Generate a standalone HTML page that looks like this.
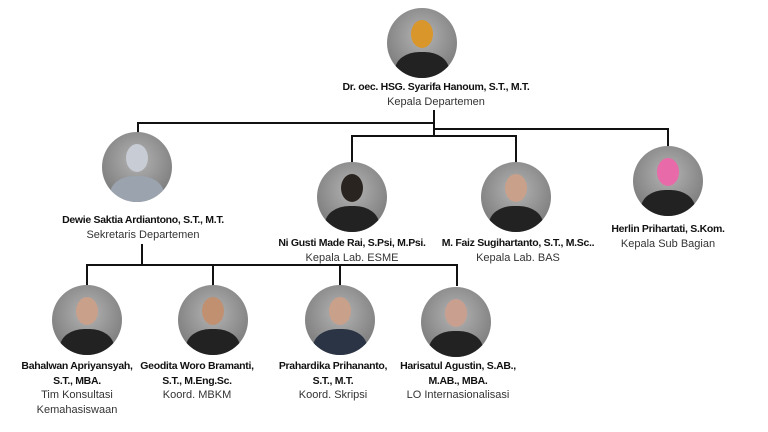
<!DOCTYPE html>
<html><head><meta charset="utf-8"><style>
html,body{margin:0;padding:0;background:#fff}
#c{position:relative;width:768px;height:432px;overflow:hidden;font-family:"Liberation Sans",sans-serif}
.l{position:absolute;background:#111}
.p{position:absolute;width:70px;height:70px;border-radius:50%;overflow:hidden;background:radial-gradient(circle at 50% 40%,#b4b4b4,#7e7e7e 75%,#6a6a6a)}
.p .h{position:absolute;left:24px;top:12px;width:22px;height:28px;border-radius:50%;background:#c9a08a}
.p .b{position:absolute;left:8px;top:44px;width:54px;height:40px;border-radius:45% 45% 0 0;background:#222}
.t{position:absolute;width:240px;text-align:center;font-size:11px;line-height:14.5px;color:#333}
.t b{color:#111;letter-spacing:-0.3px;font-size:10.5px}
</style></head><body><div id="c">
<div class="l" style="left:433px;top:110px;width:2px;height:27px"></div>
<div class="l" style="left:137px;top:122px;width:298px;height:2px"></div>
<div class="l" style="left:137px;top:122px;width:2px;height:12px"></div>
<div class="l" style="left:433px;top:128px;width:236px;height:2px"></div>
<div class="l" style="left:667px;top:128px;width:2px;height:20px"></div>
<div class="l" style="left:351px;top:135px;width:166px;height:2px"></div>
<div class="l" style="left:351px;top:135px;width:2px;height:28px"></div>
<div class="l" style="left:515px;top:135px;width:2px;height:28px"></div>
<div class="l" style="left:141px;top:244px;width:2px;height:22px"></div>
<div class="l" style="left:86px;top:264px;width:372px;height:2px"></div>
<div class="l" style="left:86px;top:264px;width:2px;height:22px"></div>
<div class="l" style="left:212px;top:264px;width:2px;height:22px"></div>
<div class="l" style="left:339px;top:264px;width:2px;height:22px"></div>
<div class="l" style="left:456px;top:264px;width:2px;height:22px"></div>
<div class="p" style="left:387px;top:8px"><div class="h" style="background:#d9962a"></div><div class="b"></div></div>
<div class="p" style="left:102px;top:132px"><div class="h" style="background:#c8ccd4"></div><div class="b" style="background:#9aa3ae"></div></div>
<div class="p" style="left:317px;top:162px"><div class="h" style="background:#2a2420"></div><div class="b"></div></div>
<div class="p" style="left:481px;top:162px"><div class="h"></div><div class="b"></div></div>
<div class="p" style="left:633px;top:146px"><div class="h" style="background:#e86aa8"></div><div class="b"></div></div>
<div class="p" style="left:52px;top:285px"><div class="h"></div><div class="b"></div></div>
<div class="p" style="left:178px;top:285px"><div class="h" style="background:#c09070"></div><div class="b"></div></div>
<div class="p" style="left:305px;top:285px"><div class="h"></div><div class="b" style="background:#2a3444"></div></div>
<div class="p" style="left:421px;top:287px"><div class="h" style="background:#c9a090"></div><div class="b"></div></div>
<div class="t" style="left:316px;top:80px"><b>Dr. oec. HSG. Syarifa Hanoum, S.T., M.T.</b><br>Kepala Departemen</div>
<div class="t" style="left:23px;top:213px"><b>Dewie Saktia Ardiantono, S.T., M.T.</b><br>Sekretaris Departemen</div>
<div class="t" style="left:232px;top:236px"><b>Ni Gusti Made Rai, S.Psi, M.Psi.</b><br>Kepala Lab. ESME</div>
<div class="t" style="left:398px;top:236px"><b>M. Faiz Sugihartanto, S.T., M.Sc..</b><br>Kepala Lab. BAS</div>
<div class="t" style="left:548px;top:222px"><b>Herlin Prihartati, S.Kom.</b><br>Kepala Sub Bagian</div>
<div class="t" style="left:-43px;top:359px"><b>Bahalwan Apriyansyah,<br>S.T., MBA.</b><br>Tim Konsultasi<br>Kemahasiswaan</div>
<div class="t" style="left:77px;top:359px"><b>Geodita Woro Bramanti,<br>S.T., M.Eng.Sc.</b><br>Koord. MBKM</div>
<div class="t" style="left:213px;top:359px"><b>Prahardika Prihananto,<br>S.T., M.T.</b><br>Koord. Skripsi</div>
<div class="t" style="left:338px;top:359px"><b>Harisatul Agustin, S.AB.,<br>M.AB., MBA.</b><br>LO Internasionalisasi</div>
</div></body></html>
